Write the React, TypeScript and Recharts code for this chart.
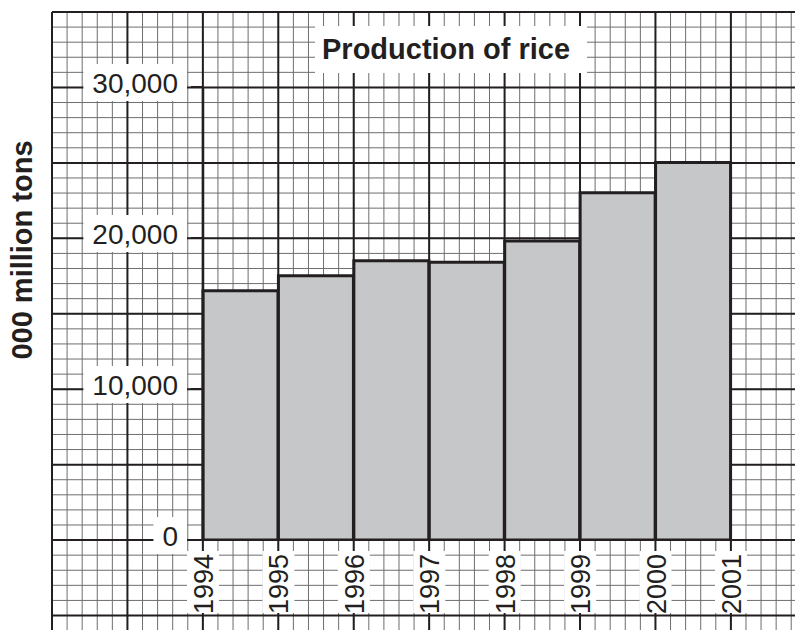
import React from 'react'
import { ComposedChart, Bar, XAxis, YAxis, CartesianGrid } from 'recharts'

// bars: one per year interval (000 million tons)
const CATEGORIES = ['1994', '1995', '1996', '1997', '1998', '1999', '2000']
const PRODUCTION = [16500, 17500, 18500, 18400, 19800, 23000, 25000]

// tick labels
const YEAR_TICKS = [1994, 1995, 1996, 1997, 1998, 1999, 2000, 2001]
const VALUE_TICKS = [0, 10000, 20000, 30000]

// graph paper: the sheet runs past the plotted region on every side
const PAPER_X: [number, number] = [1992, 2001.85]
const PAPER_Y: [number, number] = [-5960, 35000]

const INK = '#231f20'
const FONT = "'Liberation Sans', Arial, Helvetica, sans-serif"

function steps(from: number, to: number, step: number) {
  const out: number[] = []
  for (let v = from; v <= to + 1e-9; v += step) out.push(Math.round(v * 1000) / 1000)
  return out
}

const MINOR_X = steps(1992, 2001.8, 0.2)
const MAJOR_X = steps(1992, 2001, 1)
const MINOR_Y = steps(-5000, 35000, 1000)
const MAJOR_Y = steps(-5000, 35000, 5000)

const chartData = CATEGORIES.map((year, i) => ({ year, start: Number(year), production: PRODUCTION[i] }))
const paperData = MAJOR_X.map(v => ({ v }))

function textWidth(s: string, size: number) {
  let w = 0
  for (const c of s) w += c === ',' ? 0.278 : 0.556
  return w * size
}

const ValueTick = ({ x, y, payload }: any) => {
  const label = Number(payload.value).toLocaleString('en-US')
  const w = textWidth(label, 28) + 18
  return (
    <g>
      <rect x={x - 4 - w} y={y - 23} width={w} height={37} fill="#fff" />
      <text x={x - 13} y={y + 6} textAnchor="end" fontSize={28} fontFamily={FONT} fill={INK}>
        {label}
      </text>
    </g>
  )
}

const YearTick = ({ x, y, payload }: any) => (
  <g>
    <rect x={x - 16} y={y + 11} width={32} height={62} fill="#fff" />
    <text
      transform={`translate(${x + 10},${y + 14}) rotate(-90)`}
      textAnchor="end"
      fontSize={27}
      fontFamily={FONT}
      fill={INK}
    >
      {payload.value}
    </text>
  </g>
)

export default function App() {
  return (
    <div style={{ position: 'absolute', left: 0, top: 0, width: 795, height: 630, background: '#fff', overflow: 'hidden' }}>
      {/* graph paper */}
      <div style={{ position: 'absolute', left: 0, top: 0 }}>
        <ComposedChart width={795} height={630} data={paperData} margin={{ top: 12, right: 0, bottom: 0, left: 52 }}>
          <XAxis xAxisId="minor" dataKey="v" type="number" domain={PAPER_X} ticks={MINOR_X} interval={0} allowDataOverflow hide />
          <XAxis xAxisId="major" dataKey="v" type="number" domain={PAPER_X} ticks={MAJOR_X} interval={0} allowDataOverflow hide />
          <YAxis yAxisId="minor" type="number" domain={PAPER_Y} ticks={MINOR_Y} interval={0} allowDataOverflow hide />
          <YAxis yAxisId="major" type="number" domain={PAPER_Y} ticks={MAJOR_Y} interval={0} allowDataOverflow hide />
          <CartesianGrid xAxisId="minor" yAxisId="minor" stroke="#6d6e71" strokeWidth={1} syncWithTicks />
          <CartesianGrid xAxisId="major" yAxisId="major" stroke={INK} strokeWidth={2} syncWithTicks />
        </ComposedChart>
      </div>

      {/* bars and axes */}
      <div style={{ position: 'absolute', left: 0, top: 0 }}>
        <ComposedChart
          width={795}
          height={630}
          data={chartData}
          margin={{ top: 87, right: 64, bottom: 0, left: 0 }}
          barCategoryGap={0}
          barGap={0}
        >
          <XAxis
            xAxisId="yr"
            dataKey="start"
            type="number"
            domain={[1994, 2001]}
            ticks={YEAR_TICKS}
            interval={0}
            allowDataOverflow
            height={90}
            axisLine={false}
            tickLine={false}
            tickSize={0}
            tickMargin={0}
            tick={<YearTick />}
          />
          <XAxis xAxisId="cat" dataKey="year" height={0} hide />
          <YAxis
            type="number"
            domain={[0, 30000]}
            ticks={VALUE_TICKS}
            interval={0}
            allowDataOverflow
            width={203}
            axisLine={{ stroke: INK, strokeWidth: 2.5 }}
            tickLine={{ stroke: INK, strokeWidth: 2 }}
            tickSize={12}
            tickMargin={0}
            tick={<ValueTick />}
          />
          <Bar
            xAxisId="cat"
            dataKey="production"
            fill="#c6c7c9"
            stroke={INK}
            strokeWidth={3}
            isAnimationActive={false}
          />
        </ComposedChart>
      </div>

      <div style={{
        position: 'absolute', left: 315, top: 26, width: 272, height: 47, background: '#fff',
        display: 'flex', alignItems: 'center', paddingLeft: 7, boxSizing: 'border-box',
        fontFamily: FONT, fontWeight: 700, fontSize: 29, color: INK, whiteSpace: 'nowrap',
      }}>
        Production of rice
      </div>

      <div style={{
        position: 'absolute', left: 22, top: 250, transform: 'translate(-50%, -50%) rotate(-90deg)',
        fontFamily: FONT, fontWeight: 700, fontSize: 29, color: INK, whiteSpace: 'nowrap',
      }}>
        000 million tons
      </div>
    </div>
  )
}
